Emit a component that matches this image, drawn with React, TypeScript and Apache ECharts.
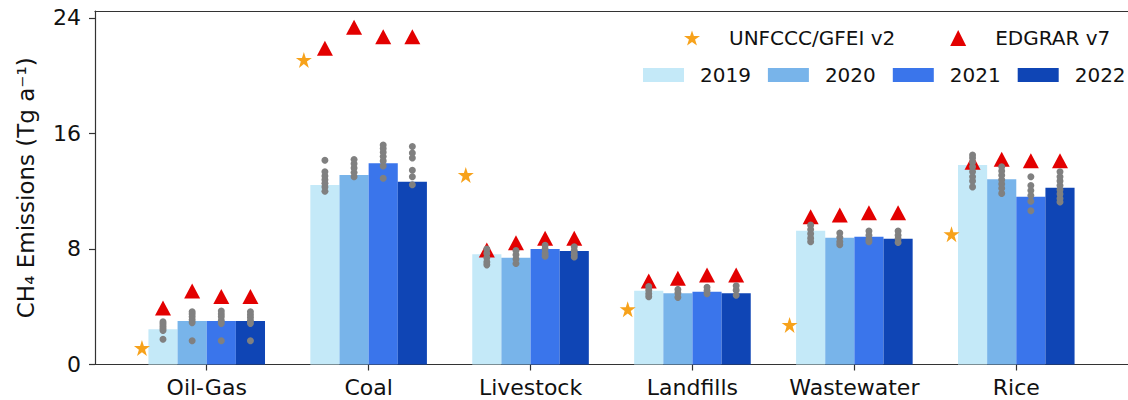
import React, { useEffect, useRef } from 'react';
import * as echarts from 'echarts';

const categories = ['Oil-Gas', 'Coal', 'Livestock', 'Landfills', 'Wastewater', 'Rice'];
const years = ['2019', '2020', '2021', '2022'];
const yTicks = [0, 8, 16, 24];

// Bar values (Tg a-1) per year, in category order
const bars2019 = [2.44, 12.43, 7.63, 5.11, 9.27, 13.82];
const bars2020 = [3.01, 13.12, 7.4, 4.93, 8.78, 12.83];
const bars2021 = [3.01, 13.93, 8.0, 5.04, 8.85, 11.62];
const bars2022 = [3.01, 12.66, 7.86, 4.93, 8.71, 12.24];

// EDGAR v7 per year
const edgar2019 = [3.91, 21.9, 7.93, 5.78, 10.24, 14.0];
const edgar2020 = [5.09, 23.35, 8.43, 5.97, 10.35, 14.21];
const edgar2021 = [4.71, 22.7, 8.74, 6.2, 10.51, 14.11];
const edgar2022 = [4.71, 22.7, 8.74, 6.2, 10.51, 14.11];

// UNFCCC/GFEI v2
const unfccc = [1.14, 21.09, 13.12, 3.82, 2.74, 9.02];

// Ensemble members per category, per year (2019..2022)
const ensOilGas = [
  [2.95, 2.8, 2.65, 2.5, 2.35, 1.75],
  [3.65, 3.5, 3.3, 3.1, 2.9, 1.65],
  [3.7, 3.5, 3.3, 3.05, 2.85, 1.65],
  [3.65, 3.45, 3.25, 3.05, 2.85, 1.65],
];
const ensCoal = [
  [14.15, 13.35, 13.05, 12.8, 12.55, 12.3, 12.0],
  [14.2, 13.9, 13.6, 13.3, 13.0],
  [15.2, 14.95, 14.7, 14.4, 14.1, 13.75, 12.9],
  [15.1, 14.65, 14.3, 13.45, 13.0, 12.45],
];
const ensLivestock = [
  [8.0, 7.7, 7.4, 7.1, 6.9],
  [7.9, 7.6, 7.3, 7.0],
  [8.25, 8.0, 7.7, 7.5],
  [8.15, 7.9, 7.65, 7.45],
];
const ensLandfills = [
  [5.4, 5.15, 4.9, 4.7],
  [5.2, 4.95, 4.65],
  [5.35, 5.1, 4.9],
  [5.45, 5.15, 4.8],
];
const ensWastewater = [
  [9.65, 9.35, 9.05, 8.75, 8.5],
  [9.1, 8.8, 8.5, 8.3],
  [9.25, 8.95, 8.65, 8.5],
  [9.25, 8.95, 8.7, 8.45],
];
const ensRice = [
  [14.5, 14.3, 14.0, 13.7, 13.35, 13.0, 12.7, 12.3],
  [13.7, 13.4, 13.1, 12.8, 12.5, 12.2, 11.85],
  [13.0, 12.4, 12.05, 11.7, 11.3, 10.65],
  [13.35, 13.0, 12.7, 12.4, 12.1, 11.8, 11.5, 11.25],
];

const barValues = [bars2019, bars2020, bars2021, bars2022];
const edgarValues = [edgar2019, edgar2020, edgar2021, edgar2022];
const ensembles = [ensOilGas, ensCoal, ensLivestock, ensLandfills, ensWastewater, ensRice];

const yearColors = ['#C4E9F8', '#78B4EA', '#3A75EB', '#0F45B5'];
const BAR_W = 0.18;
const STAR_OFFSET = -0.4;
const FONT = 'DejaVu Sans';
const TEXT = '#111';
const SPINE = '#333';
const STAR =
  'path://M50,0 L61.8,35.4 L100,35.4 L69.1,57.3 L80.9,95.1 L50,72 L19.1,95.1 L30.9,57.3 L0,35.4 L38.2,35.4 Z';

const off = (k: number) => (k - 1.5) * BAR_W;

export default function App() {
  const ref = useRef<HTMLDivElement>(null);

  useEffect(() => {
    if (!ref.current) return;
    const chart = echarts.init(ref.current, undefined, { renderer: 'svg' });

    const barSeries = years.map((yr, k) => ({
      name: yr,
      type: 'custom',
      z: 1,
      itemStyle: { color: yearColors[k] },
      encode: { x: 0, y: 1 },
      data: categories.map((_, i) => [i + off(k), barValues[k][i]]),
      renderItem: (params: any, api: any) => {
        const x = api.value(0);
        const y = api.value(1);
        const p0 = api.coord([x - BAR_W / 2, y]);
        const p1 = api.coord([x + BAR_W / 2, 0]);
        return {
          type: 'rect',
          shape: { x: p0[0], y: p0[1], width: p1[0] - p0[0], height: p1[1] - p0[1] },
          style: { fill: yearColors[k] },
        };
      },
    }));

    const edgarData: number[][] = [];
    categories.forEach((_, i) => {
      years.forEach((__, k) => edgarData.push([i + off(k), edgarValues[k][i]]));
    });

    const ensData: number[][] = [];
    ensembles.forEach((cat, i) => {
      cat.forEach((vals, k) => vals.forEach((v) => ensData.push([i + off(k), v])));
    });

    const option: any = {
      animation: false,
      backgroundColor: '#fff',
      textStyle: { fontFamily: FONT },
      grid: {
        left: 95,
        top: 11,
        bottom: 35.5,
        right: -11,
      },
      legend: [
        {
          data: [
            { name: 'UNFCCC/GFEI v2', icon: STAR },
            { name: 'EDGRAR v7', icon: 'triangle' },
          ],
          left: 684,
          top: 28,
          padding: 0,
          itemWidth: 16,
          itemHeight: 16,
          itemGap: 55,
          selectedMode: false,
          textStyle: { fontFamily: FONT, fontSize: 20, color: TEXT, padding: [0, 0, 0, 24] },
        },
        {
          data: years.map((y) => ({ name: y, icon: 'rect' })),
          left: 643,
          top: 65,
          padding: 0,
          itemWidth: 41,
          itemHeight: 14,
          itemGap: 17,
          selectedMode: false,
          textStyle: { fontFamily: FONT, fontSize: 20, color: TEXT, padding: [0, 0, 0, 11] },
        },
      ],
      xAxis: [
        {
          type: 'value',
          min: -0.69,
          max: 5.69,
          axisLine: { show: true, onZero: false, lineStyle: { color: SPINE, width: 1.2 } },
          splitLine: { show: false },
          axisTick: {
            show: true,
            length: 6,
            lineStyle: { color: SPINE, width: 1.2 },
            customValues: categories.map((_, i) => i),
          },
          axisLabel: {
            show: true,
            margin: 12,
            fontSize: 22,
            fontFamily: FONT,
            color: TEXT,
            customValues: categories.map((_, i) => i),
            formatter: (v: number) => categories[Math.round(v)] ?? '',
          },
        },
        {
          type: 'value',
          position: 'top',
          min: -0.69,
          max: 5.69,
          axisLine: { show: true, onZero: false, lineStyle: { color: SPINE, width: 1.2 } },
          splitLine: { show: false },
          axisTick: { show: false },
          axisLabel: { show: false },
        },
      ],
      yAxis: {
        type: 'value',
        min: 0,
        max: 24.48,
        name: 'CH₄ Emissions (Tg a⁻¹)',
        nameLocation: 'middle',
        nameGap: 58,
        nameRotate: 90,
        nameTextStyle: { fontSize: 23, fontFamily: FONT, color: TEXT },
        axisLine: { show: true, onZero: false, lineStyle: { color: SPINE, width: 1.2 } },
        splitLine: { show: false },
        axisTick: {
          show: true,
          length: 6,
          lineStyle: { color: SPINE, width: 1.2 },
          customValues: yTicks,
        },
        axisLabel: {
          show: true,
          margin: 14,
          fontSize: 22,
          fontFamily: FONT,
          color: TEXT,
          customValues: yTicks,
        },
      },
      series: [
        ...barSeries,
        {
          name: 'UNFCCC/GFEI v2',
          type: 'scatter',
          z: 2,
          symbol: STAR,
          symbolSize: 16,
          itemStyle: { color: '#F7A21B', opacity: 1 },
          data: unfccc.map((v, i) => [i + STAR_OFFSET, v]),
        },
        {
          name: 'EDGRAR v7',
          type: 'scatter',
          z: 3,
          symbol: 'triangle',
          symbolSize: [16, 15],
          itemStyle: { color: '#E30000', opacity: 1 },
          data: edgarData,
        },
        {
          name: 'ensemble',
          type: 'scatter',
          z: 4,
          symbol: 'circle',
          symbolSize: 7,
          itemStyle: { color: '#808080', opacity: 1 },
          data: ensData,
        },
      ],
    };

    chart.setOption(option);
    return () => chart.dispose();
  }, []);

  return (
    <div
      ref={ref}
      style={{ position: 'fixed', left: 0, top: 0, width: 1128, height: 400 }}
    />
  );
}
